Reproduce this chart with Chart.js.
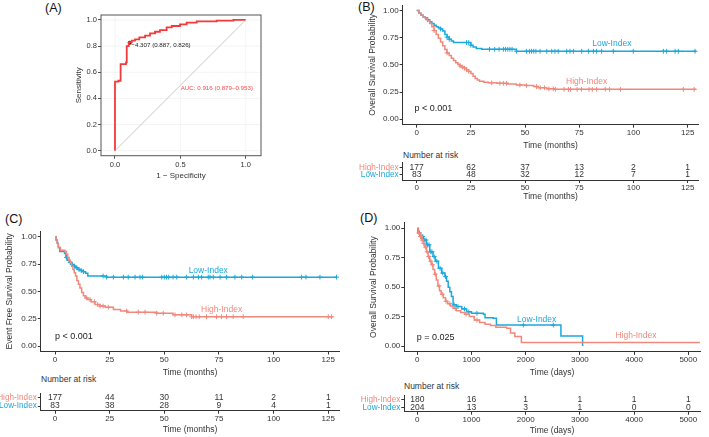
<!DOCTYPE html>
<html>
<head>
<meta charset="utf-8">
<script src="https://cdn.jsdelivr.net/npm/chart.js@4.4.0/dist/chart.umd.min.js"></script>
<style>
  body { margin: 0; background: #fff; }
  #wrap { position: relative; width: 709px; height: 437px; overflow: hidden; font-family: "Liberation Sans", Arial, sans-serif; color: #222; }
  canvas { position: absolute; }
  .tag { position: absolute; font-size: 12.5px; line-height: 14px; color: #111; }
  .nar { position: absolute; font-size: 8.5px; line-height: 10px; color: #333; }
</style>
</head>
<body>
<div id="wrap">
  <div class="tag" style="left:45px;top:1px">(A)</div>
  <div class="tag" style="left:358px;top:0px">(B)</div>
  <div class="tag" style="left:5px;top:212px">(C)</div>
  <div class="tag" style="left:360px;top:211px">(D)</div>
  <div class="nar" style="left:403px;top:150px">Number at risk</div>
  <div class="nar" style="left:41px;top:374px">Number at risk</div>
  <div class="nar" style="left:404px;top:381px">Number at risk</div>
  <canvas id="rocA"></canvas>
  <canvas id="kmB"></canvas>
  <canvas id="riskB"></canvas>
  <canvas id="kmC"></canvas>
  <canvas id="riskC"></canvas>
  <canvas id="kmD"></canvas>
  <canvas id="riskD"></canvas>
</div>
<script>
const FONT = '"Liberation Sans", Arial, sans-serif';
const INK = '#333333';
const LOW = '#1ba8da';
const HIGH = '#f1887c';
const ROC_RED = '#f23a3a';

// ---- (A) ROC ----
const rocFpr = [0, 0, 0.026, 0.026, 0.043, 0.043, 0.084, 0.084, 0.09, 0.09, 0.105, 0.105, 0.113, 0.113, 0.128, 0.128, 0.153, 0.153, 0.186, 0.186, 0.23, 0.23, 0.268, 0.268, 0.306, 0.306, 0.344, 0.344, 0.395, 0.395, 0.434, 0.434, 0.497, 0.497, 0.548, 0.548, 0.625, 0.625, 0.778, 0.778, 0.906, 0.906, 1];
const rocSens = [0, 0.528, 0.528, 0.535, 0.535, 0.663, 0.663, 0.676, 0.676, 0.80, 0.80, 0.826, 0.826, 0.83, 0.83, 0.842, 0.842, 0.852, 0.852, 0.867, 0.867, 0.88, 0.88, 0.898, 0.898, 0.91, 0.91, 0.923, 0.923, 0.944, 0.944, 0.954, 0.954, 0.967, 0.967, 0.98, 0.98, 0.99, 0.99, 0.995, 0.995, 1, 1];
const rocCut = [0.113, 0.826];
const rocTicksX = [0, 0.5, 1];
const rocTicksY = [0, 0.2, 0.4, 0.6, 0.8, 1];

// ---- (B) overall survival, months ----
const bHighT = [0, 1, 2, 3, 4, 5, 6, 7, 8, 9, 10, 11, 12, 13, 14, 15, 16, 17, 18, 19, 20, 21, 22, 23, 24, 25, 26, 27, 28, 29, 31, 33, 37, 42, 46, 50, 54, 56, 60, 64];
const bHighS = [1, .975, .955, .94, .925, .905, .88, .85, .815, .78, .745, .71, .675, .64, .61, .585, .56, .54, .52, .505, .49, .48, .47, .455, .44, .42, .395, .375, .36, .35, .34, .335, .33, .325, .315, .31, .30, .29, .28, .275];
const bHighCens = [8, 14, 20, 21, 22, 23, 24, 34.6, 38.4, 40, 41.5, 47.6, 50.7, 55.3, 57, 59, 61, 63, 64, 68, 70, 71, 74, 76, 79.5, 81, 83, 87, 89, 94, 123, 128];
const bLowT = [0, 1, 2, 3, 4, 5, 6, 7, 8, 9, 10, 11, 12, 13, 14, 15, 16, 17, 25, 26, 27.5, 30, 46];
const bLowS = [1, .975, .955, .94, .93, .915, .895, .88, .865, .85, .84, .83, .81, .78, .755, .735, .72, .705, .68, .665, .65, .643, .625];
const bLowCens = [5, 11, 14, 15, 23, 24, 25, 33.6, 36, 38, 40, 41, 42, 43, 44, 46, 50.6, 52, 53, 54, 55, 56.9, 60, 62.3, 63.8, 65.3, 69.2, 70.7, 72.3, 76.1, 79.2, 81.5, 83, 85.3, 90.7, 99.9, 113.8, 115.3, 119.2, 120.7, 128.4];
const bRiskHigh = [177, 62, 37, 13, 2, 1];
const bRiskLow = [83, 48, 32, 12, 7, 1];

// ---- (C) event free survival, months ----
const cHighT = [0, 0.5, 1, 1.5, 2.5, 4.5, 5.2, 5.8, 6.4, 7, 7.6, 8.2, 8.8, 9.4, 10, 10.7, 11.4, 12.2, 13, 13.8, 15, 16.5, 18.3, 20.5, 23, 26.7, 30, 33, 46.5, 54, 62.5];
const cHighS = [1, .97, .94, .90, .875, .865, .84, .81, .785, .76, .73, .70, .67, .64, .60, .565, .53, .49, .46, .44, .425, .405, .38, .365, .355, .335, .32, .31, .30, .285, .268];
const cHighCens = [14.5, 16, 18, 19.5, 20.6, 22, 24.4, 32.8, 38.1, 41.2, 46.5, 49.5, 54.9, 58, 60.2, 62.5, 63.3, 64.5, 66, 69.3, 73.9, 76.2, 78.5, 81.5, 86.1, 125, 126.5];
const cLowT = [0, 0.5, 1, 1.5, 2.2, 4.4, 5, 5.6, 6.5, 7.5, 8.5, 9.5, 10.5, 11.6, 13, 14, 15, 23.6];
const cLowS = [1, .97, .94, .90, .865, .845, .81, .785, .765, .745, .73, .715, .70, .69, .68, .665, .64, .63];
const cLowCens = [5.3, 7, 8, 9, 10, 11, 12, 13, 22, 23.6, 26.7, 31.3, 33.5, 36.6, 38.9, 40.1, 48.8, 50, 51, 52, 54, 55.7, 60.2, 63.3, 65.6, 67.1, 70.1, 70.9, 72.4, 75.5, 78.5, 82.3, 85.4, 90.4, 112.8, 114.8, 121.2, 128.8];
const cRiskHigh = [177, 44, 30, 11, 2, 1];
const cRiskLow = [83, 38, 28, 9, 4, 1];

// ---- (D) overall survival, days ----
const dHighT = [0, 20, 50, 80, 110, 140, 170, 200, 230, 260, 290, 320, 350, 380, 410, 440, 480, 520, 560, 610, 660, 720, 800, 880, 960, 1050, 1150, 1250, 1350, 1450, 1650, 1720, 1800, 1920];
const dHighS = [1, .96, .93, .90, .87, .84, .80, .76, .72, .69, .65, .61, .56, .51, .47, .44, .41, .38, .36, .34, .32, .30, .285, .27, .25, .22, .20, .185, .175, .16, .15, .11, .08, .03];
const dHighCens = [30, 60, 90, 120, 150, 180, 210, 250, 280, 330, 400, 460, 530, 600, 700, 900, 1100];
const dLowT = [0, 10, 50, 110, 170, 230, 290, 330, 390, 450, 510, 540, 570, 600, 630, 660, 720, 820, 910, 1000, 1220, 1250, 1400, 1460, 2650, 3050];
const dLowS = [1, .96, .93, .90, .86, .80, .76, .72, .66, .62, .59, .55, .50, .46, .42, .35, .335, .315, .29, .278, .269, .241, .235, .178, .085, 0];
const dLowCens = [40, 70, 100, 130, 160, 190, 215, 250, 270, 310, 360, 420, 470, 520, 680, 750, 870, 950, 1100, 1956, 2509];
const dRiskHigh = [180, 16, 1, 1, 1, 1];
const dRiskLow = [204, 13, 3, 1, 0, 0];

const monthTicks = [0, 25, 50, 75, 100, 125];
const dayTicks = [0, 1000, 2000, 3000, 4000, 5000];
const survTicks = [0, 0.25, 0.5, 0.75, 1];
const riskGroups = ['High-Index', 'Low-Index'];

// ---------- helpers ----------
function place(cv, L, T, W, H) {
  cv.width = W; cv.height = H;
  cv.style.left = L + 'px'; cv.style.top = T + 'px';
  cv.style.width = W + 'px'; cv.style.height = H + 'px';
}

function zeroPad(s) { s.paddingLeft = 0; s.paddingRight = 0; s.paddingTop = 0; s.paddingBottom = 0; }

function stepLookup(ts, ss, t) {
  let s = ss[0];
  for (let i = 0; i < ts.length; i++) { if (ts[i] <= t) s = ss[i]; else break; }
  return s;
}

function stepPts(ts, ss, end) {
  const d = ts.map((t, i) => ({x: t, y: ss[i]}));
  if (end != null) d.push({x: end, y: ss[ss.length - 1]});
  return d;
}

function censPts(ts, ss, cens) { return cens.map(t => ({x: t, y: stepLookup(ts, ss, t)})); }

function buildOptions(P) {
  const a = {left: P.area[0] - P.L, top: P.area[1] - P.T, right: P.area[2] - P.L, bottom: P.area[3] - P.T};
  const tickFont = {family: FONT, size: P.tickSize};
  const titleFont = {family: FONT, size: P.titleSize};
  const lh = P.titleSize * 1.2;
  const grid = {display: true, drawOnChartArea: false, drawTicks: true, tickLength: 3, tickWidth: 1, color: P.tickColor || INK};
  const border = {display: P.border !== false, color: INK, width: 1};
  return {
    responsive: false, animation: false, events: [],
    layout: {padding: {top: a.top, right: P.W - a.right, left: 0, bottom: 0}},
    plugins: {legend: {display: false}, tooltip: {enabled: false}},
    scales: {
      x: {
        type: 'linear', min: P.xMin, max: P.xMax,
        afterBuildTicks: s => { s.ticks = P.xTicks.map(v => ({value: v})); },
        afterFit: s => { s.height = P.H - a.bottom; zeroPad(s); },
        ticks: {autoSkip: false, maxRotation: 0, minRotation: 0, padding: P.xPad, color: INK, font: tickFont, callback: P.xFmt},
        grid: grid, border: border,
        title: {display: !!P.xTitle, text: P.xTitle || '', color: INK, font: titleFont,
                padding: {top: 0, bottom: P.xTitle ? P.H - (P.xTitleY - P.T) - lh / 2 : 0}}
      },
      y: {
        type: 'linear', min: P.yMin, max: P.yMax,
        afterBuildTicks: s => { s.ticks = P.yTicks.map(v => ({value: v})); },
        afterFit: s => { s.width = a.left; zeroPad(s); },
        ticks: {autoSkip: false, padding: 1, font: P.yFont || tickFont, callback: P.yFmt,
                color: P.yColors ? (c => P.yColors[c.index]) : INK},
        grid: grid, border: border,
        title: {display: !!P.yTitle, text: P.yTitle || '', color: INK, font: titleFont,
                padding: {top: P.yTitle ? (P.yTitleX - P.L) - lh / 2 : 0, bottom: 0}}
      }
    }
  };
}

function textPlugin(items) {
  return {
    id: 'notes',
    afterDatasetsDraw(chart) {
      const {ctx, scales: {x, y}} = chart;
      ctx.save();
      items.forEach(it => {
        ctx.font = it.size + 'px ' + FONT;
        ctx.fillStyle = it.color;
        ctx.textAlign = it.align || 'center';
        ctx.textBaseline = 'middle';
        ctx.fillText(it.text, x.getPixelForValue(it.x), y.getPixelForValue(it.y));
      });
      ctx.restore();
    }
  };
}

function kmChart(id, P, groups, notes) {
  const cv = document.getElementById(id);
  place(cv, P.L, P.T, P.W, P.H);
  const datasets = [];
  groups.forEach(g => {
    datasets.push({data: stepPts(g.t, g.s, g.end), stepped: true, borderColor: g.color, borderWidth: 1.5, pointRadius: 0, fill: false});
    datasets.push({data: censPts(g.t, g.s, g.cens), showLine: false, borderColor: g.color, backgroundColor: g.color,
                   pointBorderColor: g.color, pointStyle: 'cross', pointRadius: 2.4, pointBorderWidth: 1});
  });
  new Chart(cv, {type: 'line', data: {datasets}, options: buildOptions(P), plugins: [textPlugin(notes)]});
}

function riskChart(id, P, times, high, low) {
  const cv = document.getElementById(id);
  place(cv, P.L, P.T, P.W, P.H);
  const notes = [];
  times.forEach((t, i) => {
    notes.push({x: t, y: 2, text: String(high[i]), color: INK, size: 8.5});
    notes.push({x: t, y: 1, text: String(low[i]), color: INK, size: 8.5});
  });
  const opts = buildOptions(Object.assign({
    yTicks: [2, 1], yFmt: (v, i) => riskGroups[i], yColors: [HIGH, LOW],
    yFont: {family: FONT, size: 8.2}, tickSize: 8, titleSize: 8.5, xPad: 0
  }, P));
  new Chart(cv, {type: 'line', data: {datasets: []}, options: opts, plugins: [textPlugin(notes)]});
}

const fmt2 = v => v.toFixed(2);
const fmt0 = v => String(v);

// ---------- (A) ----------
(function () {
  const P = {L: 40, T: 0, W: 240, H: 185, area: [101, 15, 261, 155.7],
    xMin: -0.107, xMax: 1.117, yMin: -0.038, yMax: 1.038,
    xTicks: rocTicksX, yTicks: rocTicksY, xFmt: v => v.toFixed(1), yFmt: v => v.toFixed(1),
    tickSize: 7.5, titleSize: 8, xPad: 1.5, border: false, tickColor: '#555',
    xTitle: '1 \u2212 Specificity', xTitleY: 175.7, yTitle: 'Sensitivity', yTitleX: 78.3};
  const cv = document.getElementById('rocA');
  place(cv, P.L, P.T, P.W, P.H);
  const boxPlugin = {
    id: 'box',
    beforeDatasetsDraw(chart) {
      const {ctx, chartArea: c, scales: {x, y}} = chart;
      ctx.save();
      ctx.strokeStyle = '#efefef'; ctx.lineWidth = 0.7;
      rocTicksX.forEach(v => { const p = x.getPixelForValue(v); ctx.beginPath(); ctx.moveTo(p, c.top); ctx.lineTo(p, c.bottom); ctx.stroke(); });
      rocTicksY.forEach(v => { const p = y.getPixelForValue(v); ctx.beginPath(); ctx.moveTo(c.left, p); ctx.lineTo(c.right, p); ctx.stroke(); });
      ctx.restore();
    },
    afterDatasetsDraw(chart) {
      const {ctx, chartArea: c} = chart;
      ctx.save();
      ctx.strokeStyle = '#555'; ctx.lineWidth = 1;
      ctx.strokeRect(c.left, c.top, c.right - c.left, c.bottom - c.top);
      ctx.restore();
    }
  };
  const notes = [
    {x: 0.125, y: 0.803, text: '\u22124.307 (0.887, 0.826)', color: '#222', size: 6.2, align: 'left'},
    {x: 0.503, y: 0.477, text: 'AUC: 0.916 (0.879\u20130.953)', color: '#ff4a4a', size: 6.2, align: 'left'}
  ];
  new Chart(cv, {
    type: 'line',
    data: {datasets: [
      {data: [{x: 0, y: 0}, {x: 1, y: 1}], borderColor: '#bdbdbd', borderWidth: 0.8, pointRadius: 0},
      {data: rocFpr.map((f, i) => ({x: f, y: rocSens[i]})), borderColor: ROC_RED, borderWidth: 1.8, pointRadius: 0},
      {data: [{x: rocCut[0], y: rocCut[1]}], showLine: false, pointRadius: 1.5, pointBackgroundColor: '#000', pointBorderColor: '#000'}
    ]},
    options: buildOptions(P),
    plugins: [boxPlugin, textPlugin(notes)]
  });
})();

// ---------- (B) ----------
kmChart('kmB', {L: 340, T: 0, W: 369, H: 152, area: [402.6, 4.5, 698.5, 124.7],
  xMin: -6.5, xMax: 130, yMin: -0.05, yMax: 1.05, xTicks: monthTicks, yTicks: survTicks,
  xFmt: fmt0, yFmt: fmt2, tickSize: 8, titleSize: 8.5, xPad: 0,
  xTitle: 'Time (months)', xTitleY: 146, yTitle: 'Overall Survival Probability', yTitleX: 372.3},
  [{t: bHighT, s: bHighS, cens: bHighCens, end: 129, color: HIGH},
   {t: bLowT, s: bLowS, cens: bLowCens, end: 129, color: LOW}],
  [{x: 90, y: 0.695, text: 'Low-Index', color: LOW, size: 8.5},
   {x: 78.4, y: 0.344, text: 'High-Index', color: HIGH, size: 8.5},
   {x: -1, y: 0.1, text: 'p < 0.001', color: '#222', size: 9, align: 'left'}]);

riskChart('riskB', {L: 340, T: 150, W: 369, H: 52, area: [402.6, 162.5, 698.5, 180],
  xMin: -6.5, xMax: 130, yMin: 0.14, yMax: 2.79, xTicks: monthTicks, xFmt: fmt0,
  xTitle: 'Time (months)', xTitleY: 196.7}, monthTicks, bRiskHigh, bRiskLow);

// ---------- (C) ----------
kmChart('kmC', {L: 0, T: 220, W: 350, H: 158, area: [40.8, 231.2, 339.2, 351.5],
  xMin: -6.5, xMax: 130, yMin: -0.05, yMax: 1.05, xTicks: monthTicks, yTicks: survTicks,
  xFmt: fmt0, yFmt: fmt2, tickSize: 8, titleSize: 8.5, xPad: 0,
  xTitle: 'Time (months)', xTitleY: 372.3, yTitle: 'Event Free Survival Probability', yTitleX: 9.5},
  [{t: cHighT, s: cHighS, cens: cHighCens, end: 127.3, color: HIGH},
   {t: cLowT, s: cLowS, cens: cLowCens, end: 128.8, color: LOW}],
  [{x: 70.1, y: 0.689, text: 'Low-Index', color: LOW, size: 8.5},
   {x: 76.2, y: 0.336, text: 'High-Index', color: HIGH, size: 8.5},
   {x: 0, y: 0.09, text: 'p < 0.001', color: '#222', size: 9, align: 'left'}]);

riskChart('riskC', {L: 0, T: 375, W: 350, H: 61, area: [40.8, 393.3, 339.2, 410.7],
  xMin: -6.5, xMax: 130, yMin: 0.434, yMax: 2.53, xTicks: monthTicks, xFmt: fmt0,
  xTitle: 'Time (months)', xTitleY: 430}, monthTicks, cRiskHigh, cRiskLow);

// ---------- (D) ----------
kmChart('kmD', {L: 355, T: 215, W: 354, H: 163, area: [404.3, 222.4, 700, 351.9],
  xMin: -240, xMax: 5216, yMin: -0.05, yMax: 1.05, xTicks: dayTicks, yTicks: survTicks,
  xFmt: fmt0, yFmt: fmt2, tickSize: 8, titleSize: 8.5, xPad: 0,
  xTitle: 'Time (days)', xTitleY: 372.3, yTitle: 'Overall Survival Probability', yTitleX: 373.3},
  [{t: dHighT, s: dHighS, cens: dHighCens, end: 5214, color: HIGH},
   {t: dLowT, s: dLowS, cens: dLowCens, end: null, color: LOW}],
  [{x: 2203, y: 0.221, text: 'Low-Index', color: LOW, size: 8.5},
   {x: 4035, y: 0.088, text: 'High-Index', color: HIGH, size: 8.5},
   {x: -10, y: 0.07, text: 'p = 0.025', color: '#222', size: 9, align: 'left'}]);

riskChart('riskD', {L: 355, T: 378, W: 354, H: 59, area: [404.3, 395, 700, 411.7],
  xMin: -240, xMax: 5216, yMin: 0.45, yMax: 2.54, xTicks: dayTicks, xFmt: fmt0,
  xTitle: 'Time (days)', xTitleY: 430.7}, dayTicks, dRiskHigh, dRiskLow);
</script>
</body>
</html>
